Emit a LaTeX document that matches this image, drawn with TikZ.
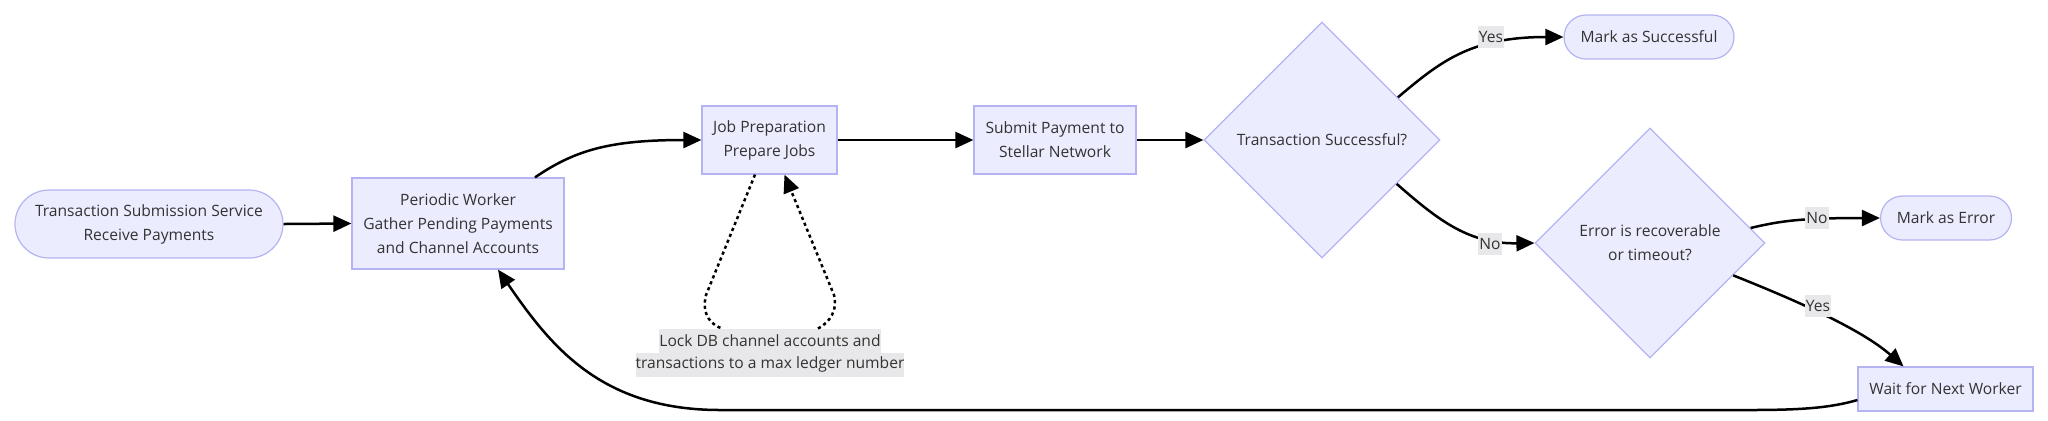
\documentclass[tikz,border=0pt]{standalone}
\usepackage{fontspec}
\setmainfont{Open Sans}
\usetikzlibrary{shapes.geometric,arrows.meta,calc}
\definecolor{nodefill}{RGB}{236,236,255}
\definecolor{nodeborder}{RGB}{180,180,242}
\definecolor{textc}{RGB}{51,51,51}
\definecolor{lblbg}{RGB}{232,232,234}
\begin{document}
\begin{tikzpicture}[x=0.5pt,y=-0.5pt,
  every node/.style={font=\fontsize{7.8}{12}\selectfont, text=textc},
  box/.style={draw=nodeborder, fill=nodefill, line width=0.6pt, align=center, inner sep=0pt},
  bigstadium/.style={box, rounded corners=17pt},
  smallstadium/.style={box, rounded corners=11pt},
  decision/.style={box, diamond, aspect=1},
  flow/.style={line width=1.25pt, -{Triangle[length=9pt,width=8pt]}},
  dotflow/.style={line width=1.25pt, dash pattern=on 1.6pt off 1.6pt, -{Triangle[length=9pt,width=8pt]}},
  dotline/.style={line width=1.25pt, dash pattern=on 1.6pt off 1.6pt},
  edgelabel/.style={fill=lblbg, inner xsep=0.5pt, inner ysep=0pt, minimum height=11pt},
  locklabel/.style={fill=lblbg, inner xsep=0pt, inner ysep=0pt, minimum height=12pt}
]
\useasboundingbox (0,0) rectangle (2048,420);

% nodes
\node[bigstadium, minimum width=134pt, minimum height=34pt] (tss) at (149,224)
  {Transaction Submission Service\\Receive Payments};
\node[box, minimum width=106pt, minimum height=45.5pt] (pw) at (458,223.5)
  {Periodic Worker\\Gather Pending Payments\\and Channel Accounts};
\node[box, minimum width=67.5pt, minimum height=34pt] (jp) at (769.5,140)
  {Job Preparation\\Prepare Jobs};
\node[box, minimum width=81pt, minimum height=34pt] (sp) at (1055,140)
  {Submit Payment to\\Stellar Network};
\node[decision, minimum width=118pt, minimum height=118pt] (ts) at (1322,140)
  {Transaction Successful?};
\node[smallstadium, minimum width=85pt, minimum height=22pt] (mas) at (1649,37)
  {Mark as Successful};
\node[decision, minimum width=115pt, minimum height=115pt] (er) at (1650,243)
  {Error is recoverable\\or timeout?};
\node[smallstadium, minimum width=65.5pt, minimum height=22pt] (mae) at (1946,218)
  {Mark as Error};
\node[box, minimum width=87.5pt, minimum height=22pt] (wnw) at (1945.5,389)
  {Wait for Next Worker};

\node[locklabel] (lockA) at (770,341) {Lock DB channel accounts and};
\node[locklabel] (lockB) at (770,364.5) {transactions to a max ledger number};

% connectors
\draw[flow] (tss.east) -- (pw.west);
\draw[flow] ($(pw.north)+(77,0)$) .. controls (575,150) and (610,140) .. (jp.west);
\draw[flow] (jp.east) -- (sp.west);
\draw[flow] (sp.east) -- (ts.west);
\draw[flow] ($(ts.north)!0.64!(ts.east)$) .. controls (1440,62) and (1470,37) .. (mas.west);
\draw[flow] ($(ts.east)!0.37!(ts.south)$) .. controls (1440,222) and (1470,244) .. (er.west);
\draw[flow] ($(er.north)!0.87!(er.east)$) .. controls (1780,221) and (1800,218) .. (mae.west);
\draw[flow] ($(er.east)!0.28!(er.south)$) .. controls (1790,298) and (1860,328) .. ($(wnw.north)+(-42,0)$);
\draw[flow] ($(wnw.west)+(0,11)$) .. controls (1830,408) and (1800,410) .. (1750,410)
  -- (720,410) .. controls (600,410) and (550,345) .. ($(pw.south)+(40,0)$);

% self loop through the lock label
\draw[dotline] ($(jp.south)+(-14.5,0)$) -- (706,295) .. controls (701,315) and (712,326) .. ($(lockA.north)+(-47,0)$);
\draw[dotflow] ($(lockA.north)+(48,0)$) .. controls (830,322) and (838,310) .. (834,295) -- ($(jp.south)+(15,0)$);

% edge labels
\node[edgelabel] (yes1) at (1491,37) {Yes};
\node[edgelabel] (no1) at (1490,244) {No};
\node[edgelabel] (no2) at (1817,218) {No};
\node[edgelabel] (yes2) at (1818,306) {Yes};
\end{tikzpicture}
\end{document}
